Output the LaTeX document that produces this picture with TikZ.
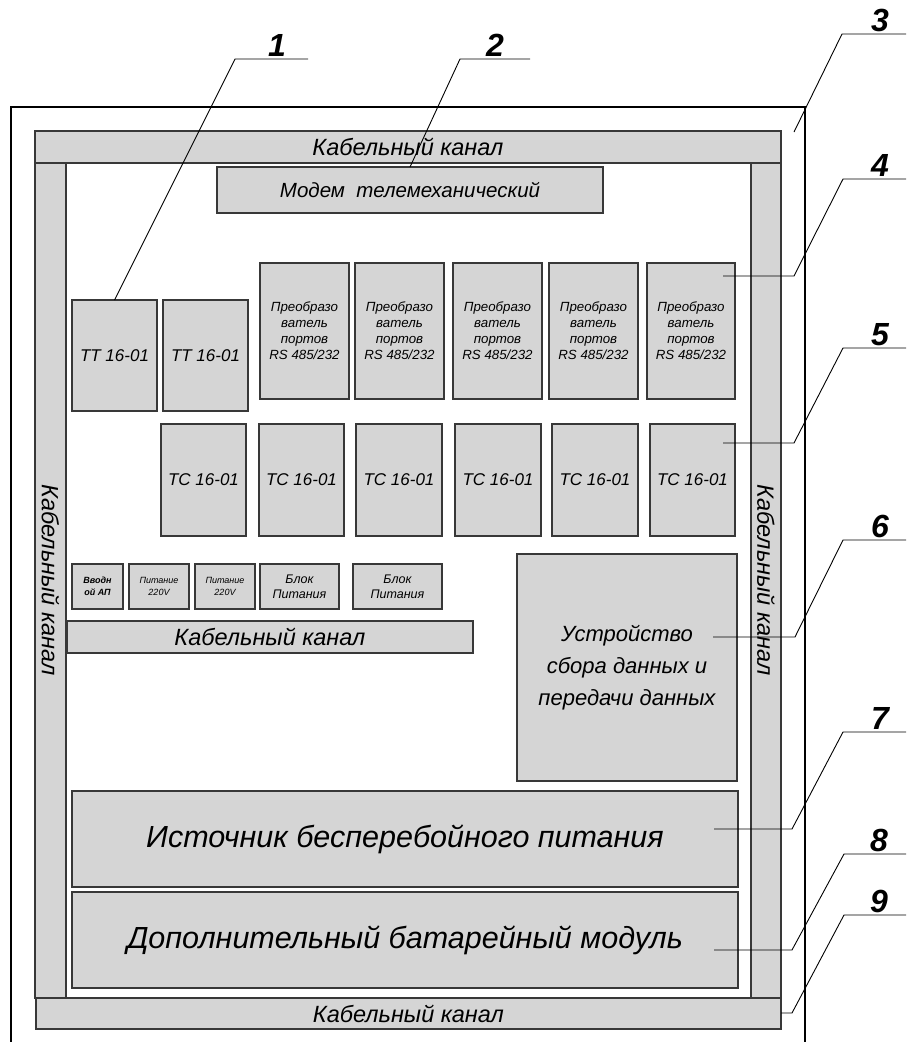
\documentclass[tikz,border=0pt]{standalone}
\usepackage{fontspec}
\setmainfont{Liberation Sans}
\definecolor{boxgray}{HTML}{D5D5D5}
\definecolor{edgegray}{HTML}{383838}
\newcommand\bx[7]{\node[box,#6,minimum width={(#4-#2)*1pt},minimum height={(#5-#3)*1pt}] (#1) at ({(#2+#4)/2},{(#3+#5)/2}) {#7};}
\tikzset{
  box/.style={draw=edgegray,fill=boxgray,line width=1.3pt,inner sep=0pt,outer sep=0pt,align=center},
  chan/.style={font=\fontsize{23.5}{25}\selectfont\itshape},
  big/.style={font=\fontsize{30.5}{34}\selectfont\itshape},
  mid/.style={font=\fontsize{20.5}{22}\selectfont\itshape},
  ust/.style={font=\fontsize{22}{32}\selectfont\itshape},
  ttc/.style={font=\fontsize{17}{20}\selectfont\itshape},
  conv/.style={font=\fontsize{13.3}{16}\selectfont\itshape},
  tiny/.style={font=\fontsize{9}{12}\selectfont\itshape},
  tinyb/.style={font=\fontsize{9}{12}\selectfont\bfseries\itshape},
  blok/.style={font=\fontsize{12.5}{15}\selectfont\itshape},
  lead/.style={draw=black,line width=0.9pt},
  num/.style={font=\fontsize{32}{32}\selectfont\bfseries\itshape,inner sep=0pt,anchor=south},
}
\begin{document}
\begin{tikzpicture}[x=1pt,y=-1pt]
\useasboundingbox[fill=white] (0,0) rectangle (906,1042);
% outer frame
\draw[line width=2pt,black] (11,1042) -- (11,107) -- (805,107) -- (805,1042);
% cable channels
\bx{chT}{35}{131}{781}{163}{chan}{Кабельный канал}
\bx{chL}{35}{163}{66}{998}{}{}
\bx{chR}{751}{163}{781}{998}{}{}
\bx{chB}{36}{998}{781}{1029}{chan}{Кабельный канал}
\node[chan,rotate=-90] (chLt) at (50.5,580) {Кабельный канал};
\node[chan,rotate=-90] (chRt) at (766,580) {Кабельный канал};
% modem
\bx{modem}{217}{167}{603}{213}{mid}{Модем\ \ телемеханический}
% TT
\bx{tt1}{72}{300}{157}{411}{ttc}{ТТ 16-01}
\bx{tt2}{163}{300}{248}{411}{ttc}{ТТ 16-01}
% converters
\bx{cv1}{260}{263}{349}{399}{conv}{Преобразо\\ватель\\портов\\RS 485/232}
\bx{cv2}{355}{263}{444}{399}{conv}{Преобразо\\ватель\\портов\\RS 485/232}
\bx{cv3}{453}{263}{542}{399}{conv}{Преобразо\\ватель\\портов\\RS 485/232}
\bx{cv4}{549}{263}{638}{399}{conv}{Преобразо\\ватель\\портов\\RS 485/232}
\bx{cv5}{647}{263}{735}{399}{conv}{Преобразо\\ватель\\портов\\RS 485/232}
% TC
\bx{tc1}{161}{424}{246}{536}{ttc}{ТС 16-01}
\bx{tc2}{259}{424}{344}{536}{ttc}{ТС 16-01}
\bx{tc3}{356}{424}{442}{536}{ttc}{ТС 16-01}
\bx{tc4}{455}{424}{541}{536}{ttc}{ТС 16-01}
\bx{tc5}{552}{424}{638}{536}{ttc}{ТС 16-01}
\bx{tc6}{650}{424}{735}{536}{ttc}{ТС 16-01}
% small row
\bx{s1}{72}{564}{123}{609}{tinyb}{Вводн\\ой АП}
\bx{s2}{129}{564}{189}{609}{tiny}{Питание\\220V}
\bx{s3}{195}{564}{255}{609}{tiny}{Питание\\220V}
\bx{s4}{260}{564}{339}{609}{blok}{Блок\\Питания}
\bx{s5}{353}{564}{442}{609}{blok}{Блок\\Питания}
\bx{chM}{67}{621}{473}{653}{chan}{Кабельный канал}
% data device
\bx{ust}{517}{554}{737}{781}{ust}{Устройство\\сбора данных и\\передачи данных}
% UPS and battery
\bx{ups}{72}{791}{738}{887}{big}{Источник бесперебойного питания}
\bx{bat}{72}{892}{738}{988}{big}{Дополнительный батарейный модуль}
% leader coordinates
\coordinate (h1a) at (235,59); \coordinate (h1b) at (308,59);
\coordinate (h2a) at (460,59); \coordinate (h2b) at (530,59);
\coordinate (p3) at (794,132);
\coordinate (h3a) at (842,34); \coordinate (h3b) at (906,34);
\coordinate (p4) at (723,276); \coordinate (k4) at (794,276);
\coordinate (h4a) at (843,179); \coordinate (h4b) at (906,179);
\coordinate (p5) at (723,443); \coordinate (k5) at (794,443);
\coordinate (h5a) at (843,348); \coordinate (h5b) at (906,348);
\coordinate (p6) at (713,637); \coordinate (k6) at (795,637);
\coordinate (h6a) at (843,540); \coordinate (h6b) at (906,540);
\coordinate (p7) at (714,829); \coordinate (k7) at (792,829);
\coordinate (h7a) at (843,732); \coordinate (h7b) at (906,732);
\coordinate (p8) at (714,950); \coordinate (k8) at (792,950);
\coordinate (h8a) at (844,854); \coordinate (h8b) at (906,854);
\coordinate (p9) at (781,1013); \coordinate (k9) at (792,1013);
\coordinate (h9a) at (844,915); \coordinate (h9b) at (906,915);
% leaders
\draw[lead] (tt1.north) -- (h1a) -- (h1b);
\draw[lead] (modem.north) -- (h2a) -- (h2b);
\draw[lead] (p3) -- (h3a) -- (h3b);
\draw[lead] (p4) -- (k4) -- (h4a) -- (h4b);
\draw[lead] (p5) -- (k5) -- (h5a) -- (h5b);
\draw[lead] (p6) -- (k6) -- (h6a) -- (h6b);
\draw[lead] (p7) -- (k7) -- (h7a) -- (h7b);
\draw[lead] (p8) -- (k8) -- (h8a) -- (h8b);
\draw[lead] (p9) -- (k9) -- (h9a) -- (h9b);
% numbers
\node[num] (n1) at (277,57) {1};
\node[num] (n2) at (495,57) {2};
\node[num] (n3) at (880,32) {3};
\node[num] (n4) at (880,177) {4};
\node[num] (n5) at (880,346) {5};
\node[num] (n6) at (880,538) {6};
\node[num] (n7) at (880,730) {7};
\node[num] (n8) at (879,852) {8};
\node[num] (n9) at (879,913) {9};
\end{tikzpicture}
\end{document}
